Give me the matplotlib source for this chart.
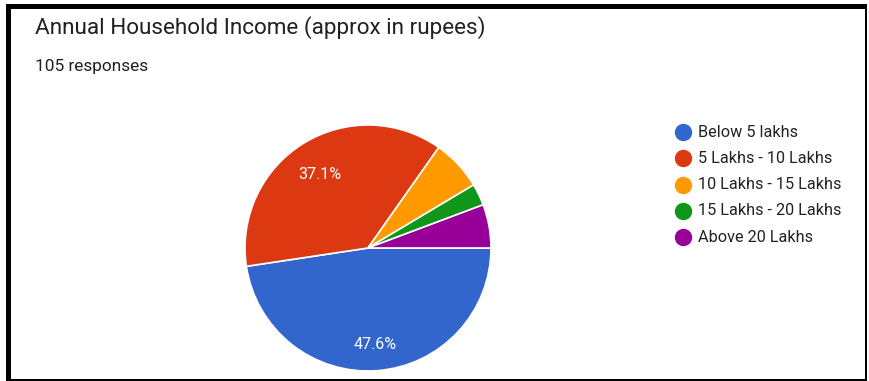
import matplotlib

matplotlib.use("Agg")
import matplotlib.pyplot as plt
from matplotlib.lines import Line2D
from matplotlib.patches import Rectangle

W, H = 870, 381

title = "Annual Household Income (approx in rupees)"
subtitle = "105 responses"
categories = ["Below 5 lakhs", "5 Lakhs - 10 Lakhs", "10 Lakhs - 15 Lakhs",
              "15 Lakhs - 20 Lakhs", "Above 20 Lakhs"]
counts = [50, 39, 7, 3, 6]
colors = ["#3366cc", "#dc3912", "#ff9900", "#109618", "#990099"]

plt.rcParams["font.family"] = ["Roboto", "DejaVu Sans"]


def fx(px):
    return px / W


def fy(py):
    return 1 - py / H


fig = plt.figure(figsize=(W / 100, H / 100), dpi=100)
fig.patch.set_facecolor("white")

# screenshot frame
for x0, y0, x1, y1 in [(6, 4, 11, 381), (6, 4, 867, 9), (865.5, 4, 867.5, 381), (6, 378.5, 867.5, 381)]:
    fig.add_artist(Rectangle((fx(x0), fy(y1)), fx(x1) - fx(x0), fy(y0) - fy(y1),
                             transform=fig.transFigure, color="black", lw=0))

fig.text(fx(35), fy(28), title, fontsize=16.2, color="#202124", va="center", ha="left")
fig.text(fx(35), fy(67), subtitle, fontsize=12.4, color="#202124", va="center", ha="left")

# pie
cx, cy, r = 368, 248, 123
ax = fig.add_axes([fx(cx - r), fy(cy + r), fx(2 * r), fy(cy - r) - fy(cy + r)])
wedges, texts, autotexts = ax.pie(
    counts, colors=colors, startangle=0, counterclock=False,
    autopct=lambda p: f"{p:.1f}%" if p > 10 else "", pctdistance=0.75,
    wedgeprops={"edgecolor": "white", "linewidth": 1.2},
    textprops={"color": "white", "fontsize": 11.5})
# nudge the percentage labels down a little
for t in autotexts:
    x, y = t.get_position()
    t.set_position((x, y - 5 / r))
ax.set_xlim(-1, 1)
ax.set_ylim(-1, 1)
ax.axis("off")

# legend
for i, (label, color) in enumerate(zip(categories, colors)):
    yy = 132 + i * 26.3
    fig.add_artist(Line2D([fx(683)], [fy(yy)], marker="o", markersize=11.5,
                          color=color, transform=fig.transFigure, lw=0))
    fig.text(fx(698), fy(yy), label, fontsize=11.7, color="#222222",
             va="center", ha="left")

fig.savefig("out.png", dpi=100)
